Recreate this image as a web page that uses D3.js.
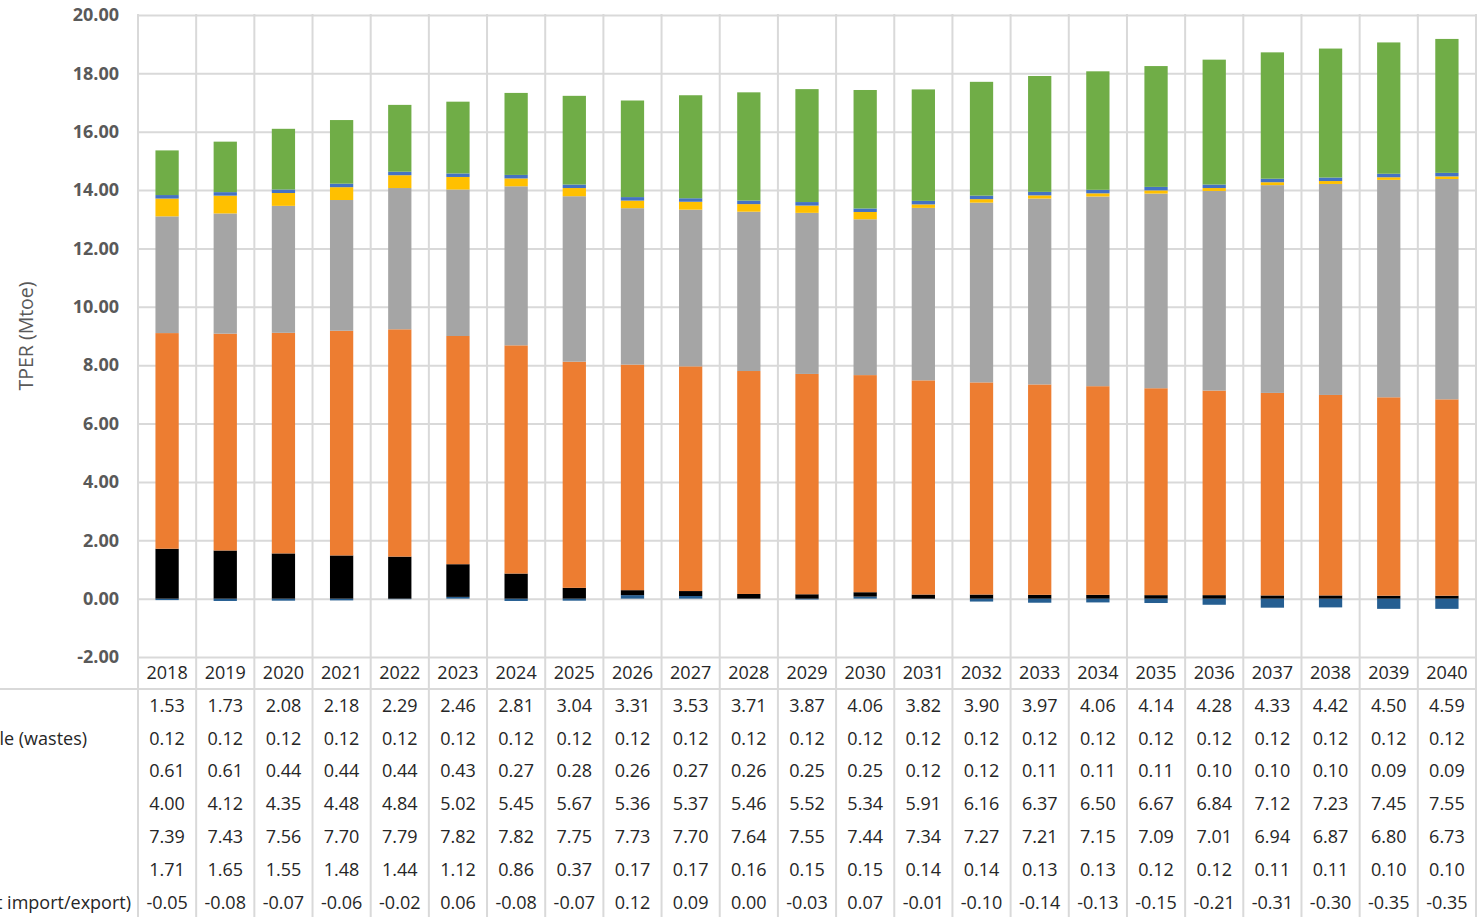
<!DOCTYPE html>
<html>
<head>
<meta charset="utf-8">
<script src="https://cdn.jsdelivr.net/npm/d3@7"></script>
<style>
  body { margin: 0; background: #fff; }
  svg { display: block; font-family: "Open Sans", sans-serif; }
</style>
</head>
<body>
<div id="chart"></div>
<script>
// categories
const years = ["2018","2019","2020","2021","2022","2023","2024","2025","2026","2027","2028",
               "2029","2030","2031","2032","2033","2034","2035","2036","2037","2038","2039","2040"];

// series (Mtoe)
const renewables = [1.53,1.73,2.08,2.18,2.29,2.46,2.81,3.04,3.31,3.53,3.71,3.87,4.06,3.82,3.90,3.97,4.06,4.14,4.28,4.33,4.42,4.50,4.59];
const wastes     = [0.12,0.12,0.12,0.12,0.12,0.12,0.12,0.12,0.12,0.12,0.12,0.12,0.12,0.12,0.12,0.12,0.12,0.12,0.12,0.12,0.12,0.12,0.12];
const crudeOil   = [0.61,0.61,0.44,0.44,0.44,0.43,0.27,0.28,0.26,0.27,0.26,0.25,0.25,0.12,0.12,0.11,0.11,0.11,0.10,0.10,0.10,0.09,0.09];
const natGas     = [4.00,4.12,4.35,4.48,4.84,5.02,5.45,5.67,5.36,5.37,5.46,5.52,5.34,5.91,6.16,6.37,6.50,6.67,6.84,7.12,7.23,7.45,7.55];
const oilProd    = [7.39,7.43,7.56,7.70,7.79,7.82,7.82,7.75,7.73,7.70,7.64,7.55,7.44,7.34,7.27,7.21,7.15,7.09,7.01,6.94,6.87,6.80,6.73];
const coal       = [1.71,1.65,1.55,1.48,1.44,1.12,0.86,0.37,0.17,0.17,0.16,0.15,0.15,0.14,0.14,0.13,0.13,0.12,0.12,0.11,0.11,0.10,0.10];
const elec       = [-0.05,-0.08,-0.07,-0.06,-0.02,0.06,-0.08,-0.07,0.12,0.09,0.00,-0.03,0.07,-0.01,-0.10,-0.14,-0.13,-0.15,-0.21,-0.31,-0.30,-0.35,-0.35];

const yTicks = [-2,0,2,4,6,8,10,12,14,16,18,20];

// table rows, top to bottom as in the data table
const rows = [
  {key: "renewables", name: "Renewables", values: renewables, color: "#70AD47"},
  {key: "wastes", name: "Non-renewable (wastes)", values: wastes, color: "#4472C4"},
  {key: "crudeOil", name: "Crude oil", values: crudeOil, color: "#FFC000"},
  {key: "natGas", name: "Natural gas", values: natGas, color: "#A5A5A5"},
  {key: "oilProd", name: "Oil products", values: oilProd, color: "#ED7D31"},
  {key: "coal", name: "Coal", values: coal, color: "#000000"},
  {key: "elec", name: "Electricity (net import/export)", values: elec, color: "#255E91"}
];

const W = 1482, H = 917;
const plotLeft = 138, plotRight = 1476, plotTop = 15;

// plain hyphen for negatives, like the spreadsheet
const fmt = d3.formatLocale({decimal: ".", thousands: ",", grouping: [3], currency: ["", ""], minus: "-"}).format(".2f");

const svg = d3.select("#chart").append("svg")
    .attr("width", W)
    .attr("height", H);

const x = d3.scaleBand().domain(years).range([plotLeft, plotRight]).paddingInner(0.6).paddingOuter(0.3);
const y = d3.scaleLinear().domain([-2, 20]).range([657, plotTop]);

const table = years.map((yr, i) => {
  const o = {year: yr};
  rows.forEach(r => o[r.key] = r.values[i]);
  return o;
});

// stacking order bottom -> top
const stackKeys = ["elec","coal","oilProd","natGas","crudeOil","wastes","renewables"];
const series = d3.stack().keys(stackKeys).offset(d3.stackOffsetDiverging)(table);
const colorOf = Object.fromEntries(rows.map(r => [r.key, r.color]));

// horizontal gridlines
svg.append("g")
    .attr("transform", `translate(${plotLeft},0)`)
    .call(d3.axisLeft(y).tickValues(yTicks).tickSize(-(plotRight - plotLeft)).tickFormat(""))
    .call(g => g.select(".domain").remove())
    .call(g => g.selectAll("line").attr("stroke", "#d9d9d9").attr("stroke-width", 2));

// vertical category lines (run down through the data table)
const bounds = d3.range(years.length + 1).map(i => plotLeft + i * x.step());
svg.append("g").selectAll("line").data(bounds).join("line")
    .attr("x1", d => d).attr("x2", d => d)
    .attr("y1", plotTop - 1).attr("y2", H)
    .attr("stroke", "#d9d9d9").attr("stroke-width", 2);

// line under header row of the table
svg.append("line")
    .attr("x1", 0).attr("x2", plotRight)
    .attr("y1", 689).attr("y2", 689)
    .attr("stroke", "#d9d9d9").attr("stroke-width", 2);

// y tick labels
svg.append("g")
    .attr("transform", `translate(${plotLeft},0)`)
    .call(d3.axisLeft(y).tickValues(yTicks).tickSize(0).tickPadding(19).tickFormat(fmt))
    .call(g => g.select(".domain").remove())
    .call(g => g.selectAll("text")
        .attr("fill", "#595959")
        .style("font-family", "'Open Sans', sans-serif")
        .style("font-size", "18px")
        .style("font-weight", "bold"));

// y axis title
svg.append("text")
    .attr("transform", "translate(33,336) rotate(-90)")
    .attr("text-anchor", "middle")
    .attr("fill", "#595959")
    .style("font-size", "19.5px")
    .text("TPER (Mtoe)");

// bars
svg.append("g").selectAll("g").data(series).join("g")
    .attr("fill", d => colorOf[d.key])
  .selectAll("rect").data(d => d).join("rect")
    .attr("x", d => x(d.data.year))
    .attr("width", x.bandwidth())
    .attr("y", d => y(Math.max(d[0], d[1])))
    .attr("height", d => Math.abs(y(d[0]) - y(d[1])));

// data table: header row
svg.append("g").selectAll("text").data(years).join("text")
    .attr("x", d => x(d) + x.bandwidth() / 2)
    .attr("y", 673)
    .attr("dy", "0.35em")
    .attr("text-anchor", "middle")
    .attr("fill", "#262626")
    .style("font-size", "18px")
    .text(d => d);

// data table: value rows
const rowY = i => 705.5 + i * 32.8;
const rowG = svg.append("g").selectAll("g").data(rows).join("g")
    .attr("transform", (d, i) => `translate(0,${rowY(i)})`);

rowG.selectAll("text.v").data(d => d.values.map((v, i) => ({v, yr: years[i]}))).join("text")
    .attr("class", "v")
    .attr("x", d => x(d.yr) + x.bandwidth() / 2)
    .attr("dy", "0.35em")
    .attr("text-anchor", "middle")
    .attr("fill", "#262626")
    .style("font-size", "18px")
    .text(d => fmt(d.v));

// row labels: left aligned, the column is cut off by the picture's left edge
const labels = rowG.append("text")
    .attr("dy", "0.35em")
    .attr("fill", "#262626")
    .style("font-size", "18px")
    .text(d => d.name);
const longest = d3.max(labels.nodes(), n => n.getComputedTextLength());
labels.attr("x", 131 - longest);
</script>
</body>
</html>
